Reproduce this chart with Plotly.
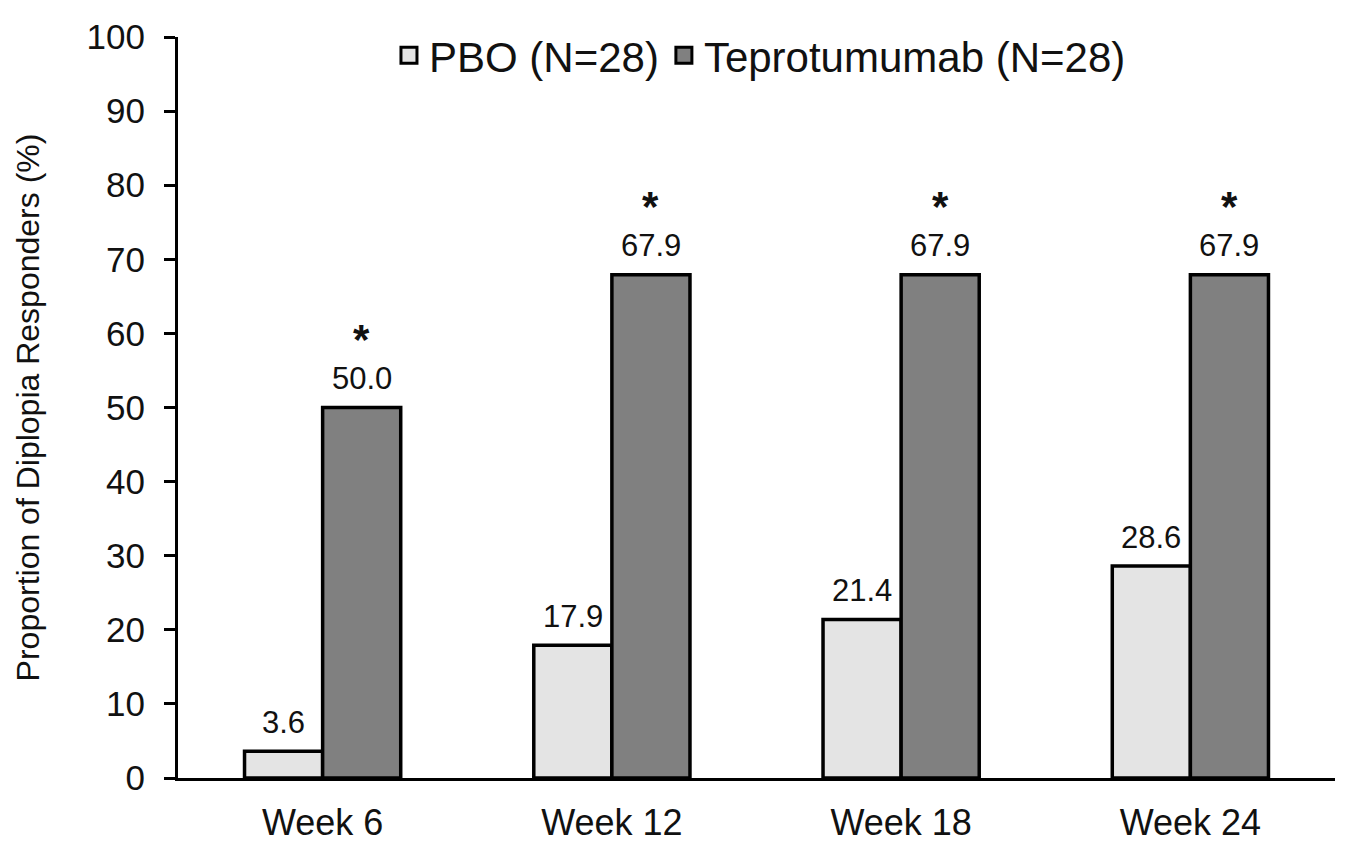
import plotly.graph_objects as go

categories = ["Week 6", "Week 12", "Week 18", "Week 24"]
pbo_values = [3.6, 17.9, 21.4, 28.6]
tepro_values = [50.0, 67.9, 67.9, 67.9]
significant = [True, True, True, True]
series_names = ["PBO (N=28)", "Teprotumumab (N=28)"]
y_ticks = [0, 10, 20, 30, 40, 50, 60, 70, 80, 90, 100]

FONT = "Liberation Sans, Arial, sans-serif"
TXT = "#111111"
PBO_COLOR = "#e4e4e4"
TEP_COLOR = "#808080"

fig = go.Figure()
fig.add_trace(go.Bar(x=categories, y=pbo_values, name=series_names[0],
                     marker=dict(color=PBO_COLOR, line=dict(color="black", width=3.5)),
                     showlegend=False))
fig.add_trace(go.Bar(x=categories, y=tepro_values, name=series_names[1],
                     marker=dict(color=TEP_COLOR, line=dict(color="black", width=3.5)),
                     showlegend=False))
# legend entries
for nm, col in zip(series_names, [PBO_COLOR, TEP_COLOR]):
    fig.add_trace(go.Scatter(x=[None], y=[None], mode="markers", name=nm,
                             marker=dict(symbol="square", size=16, color=col,
                                         line=dict(color="black", width=3))))

annotations = []
OFF = 39
for c, v in zip(categories, pbo_values):
    annotations.append(dict(x=c, y=v, xref="x", yref="y", text=f"{v:.1f}",
                            showarrow=False, xshift=-OFF, yshift=29,
                            yanchor="middle",
                            font=dict(family=FONT, size=31, color=TXT)))
for c, v, s in zip(categories, tepro_values, significant):
    annotations.append(dict(x=c, y=v, xref="x", yref="y", text=f"{v:.1f}",
                            showarrow=False, xshift=OFF, yshift=29,
                            yanchor="middle",
                            font=dict(family=FONT, size=31, color=TXT)))
    if s:
        annotations.append(dict(x=c, y=v, xref="x", yref="y", text="<b>*</b>",
                                showarrow=False, xshift=OFF, yshift=68,
                                yanchor="middle",
                                font=dict(family=FONT, size=42, color=TXT)))

fig.update_layout(
    width=1350, height=850,
    margin=dict(l=178, r=15, t=37, b=72),
    paper_bgcolor="white", plot_bgcolor="white",
    barmode="group", bargap=0.46, bargroupgap=0,
    font=dict(family=FONT, color=TXT),
    legend=dict(orientation="h", x=0.503, y=0.975, xanchor="center", yanchor="middle",
                font=dict(family=FONT, size=42, color=TXT),
                bgcolor="rgba(0,0,0,0)", itemwidth=30),
    annotations=annotations,
)
fig.update_xaxes(showline=True, linecolor="black", linewidth=3, ticks="",
                 tickfont=dict(family=FONT, size=36, color=TXT),
                 ticklabelstandoff=11, showgrid=False, zeroline=False,
                 automargin=False)
fig.update_yaxes(range=[0, 100], tickvals=y_ticks, showline=True, linecolor="black",
                 linewidth=3, ticks="outside", ticklen=11, tickwidth=3, tickcolor="black",
                 tickfont=dict(family=FONT, size=35, color=TXT),
                 ticklabelstandoff=12, showgrid=False, zeroline=False,
                 automargin=False,
                 title=dict(text="Proportion of Diplopia Responders (%)",
                            font=dict(family=FONT, size=32, color=TXT), standoff=38))

fig.write_html("out.html")
